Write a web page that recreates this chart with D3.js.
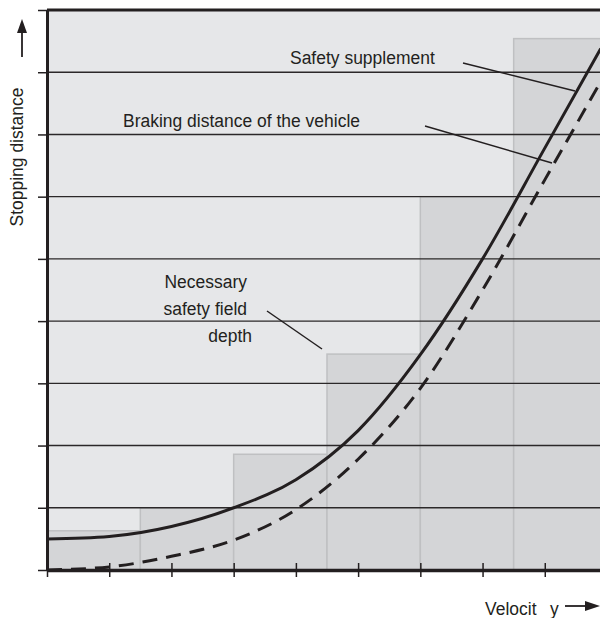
<!DOCTYPE html>
<html>
<head>
<meta charset="utf-8">
<script src="https://cdn.jsdelivr.net/npm/d3@7"></script>
<style>
  html, body { margin: 0; padding: 0; background: #fff; }
  svg { display: block; }
  text { font-family: "Liberation Sans", Arial, Helvetica, sans-serif; fill: #231f20; }
</style>
</head>
<body>
<script>
// Velocity steps (abstract units) and the two distance curves
const velocity = [0, 1, 2, 3, 4, 5, 6, 7, 8, 8.9];
const stoppingWithSupplement = [0.5, 0.54, 0.70, 1.0, 1.45, 2.24, 3.46, 5.0, 6.78, 8.38];
const brakingDistance = [0, 0.05, 0.22, 0.48, 0.97, 1.78, 2.92, 4.5, 6.27, 7.85];

// Stepped safety-field depth per velocity band
const fieldStart = [0, 1.5, 3, 4.5, 6, 7.5];
const fieldWidth = 1.5;
const fieldDepth = [0.63, 1.0, 1.86, 3.47, 6.0, 8.54];

// Tick positions (unlabelled)
const xTicks = [0, 1, 2, 3, 4, 5, 6, 7, 8, 9];
const yTicks = [0, 1, 2, 3, 4, 5, 6, 7, 8, 9];
const gridLevels = [1, 2, 3, 4, 5, 6, 7, 8];

const W = 600, H = 618;
const ink = "#231f20";

const svg = d3.select("body").append("svg")
  .attr("width", W).attr("height", H);

const x = d3.scaleLinear().domain([0, 9]).range([47, 607]);
const y = d3.scaleLinear().domain([0, 9]).range([570, 10]);

// plot background
svg.append("rect")
  .attr("x", x(0)).attr("y", y(9))
  .attr("width", x(9) - x(0)).attr("height", y(0) - y(9))
  .attr("fill", "#e6e7e9");

// safety field bands
svg.append("g").selectAll("rect")
  .data(fieldStart)
  .join("rect")
  .attr("x", d => x(d))
  .attr("y", (d, i) => y(fieldDepth[i]))
  .attr("width", x(fieldWidth) - x(0))
  .attr("height", (d, i) => y(0) - y(fieldDepth[i]))
  .attr("fill", "#d4d5d7")
  .attr("stroke", "#bfc0c2")
  .attr("stroke-width", 1.5);

// horizontal grid
svg.append("g").selectAll("line")
  .data(gridLevels)
  .join("line")
  .attr("x1", x(0)).attr("x2", x(9))
  .attr("y1", d => y(d)).attr("y2", d => y(d))
  .attr("stroke", "#2b2829")
  .attr("stroke-width", 1.4);

// curves
const line = (vals) => d3.line()
  .x((d, i) => x(velocity[i]))
  .y(d => y(d))
  .curve(d3.curveMonotoneX)(vals);

svg.append("path")
  .attr("d", line(brakingDistance))
  .attr("fill", "none")
  .attr("stroke", ink)
  .attr("stroke-width", 3)
  .attr("stroke-dasharray", "15,9");

svg.append("path")
  .attr("d", line(stoppingWithSupplement))
  .attr("fill", "none")
  .attr("stroke", ink)
  .attr("stroke-width", 3);

// top frame
svg.append("line")
  .attr("x1", x(0)).attr("x2", x(9))
  .attr("y1", y(9)).attr("y2", y(9))
  .attr("stroke", ink).attr("stroke-width", 3);

// left axis
const yAxis = svg.append("g")
  .attr("transform", `translate(${x(0)},0)`)
  .call(d3.axisLeft(y).tickValues(yTicks).tickSize(9).tickSizeOuter(0).tickFormat(""));
yAxis.select(".domain").attr("stroke", ink).attr("stroke-width", 3);
yAxis.selectAll(".tick line").attr("stroke", ink).attr("stroke-width", 1.5);

// bottom axis, ticks crossing the axis line
const xAxis = svg.append("g")
  .attr("transform", `translate(0,${y(0)})`)
  .call(d3.axisBottom(x).tickValues(xTicks).tickSize(7).tickSizeOuter(0).tickFormat(""));
xAxis.select(".domain").attr("stroke", ink).attr("stroke-width", 3.5);
xAxis.selectAll(".tick line").attr("y1", -7).attr("stroke", ink).attr("stroke-width", 1.5);

// text helper: slightly condensed sans
function label(str, px, py, anchor, rotate) {
  const g = svg.append("g")
    .attr("transform", `translate(${px},${py})` + (rotate ? ` rotate(${rotate})` : "") + " scale(0.92,1)");
  g.append("text")
    .attr("font-size", 19)
    .attr("text-anchor", anchor || "start")
    .text(str);
  return g;
}

// curve annotations with leader lines
label("Safety supplement", 290, 64);
label("Braking distance of the vehicle", 123, 127);
label("Necessary", 247, 288, "end");
label("safety field", 247, 315, "end");
label("depth", 252, 342, "end");

const leaders = [
  [463, 63, 575, 91],
  [425, 126, 552, 163],
  [267, 311, 322, 349]
];
svg.append("g").selectAll("line")
  .data(leaders)
  .join("line")
  .attr("x1", d => d[0]).attr("y1", d => d[1])
  .attr("x2", d => d[2]).attr("y2", d => d[3])
  .attr("stroke", ink).attr("stroke-width", 1.5);

// axis titles with arrows
label("Stopping distance", 23, 157, "middle", -90);
svg.append("line")
  .attr("x1", 22).attr("x2", 22).attr("y1", 57).attr("y2", 30)
  .attr("stroke", ink).attr("stroke-width", 1.8);
svg.append("path")
  .attr("d", "M22,19 L17,33 L27,33 Z")
  .attr("fill", ink);

label("Velocit", 485, 615);
label("y", 550, 615);
svg.append("line")
  .attr("x1", 565).attr("x2", 588).attr("y1", 606).attr("y2", 606)
  .attr("stroke", ink).attr("stroke-width", 1.8);
svg.append("path")
  .attr("d", "M600,606 L585,601 L585,611 Z")
  .attr("fill", ink);
</script>
</body>
</html>
